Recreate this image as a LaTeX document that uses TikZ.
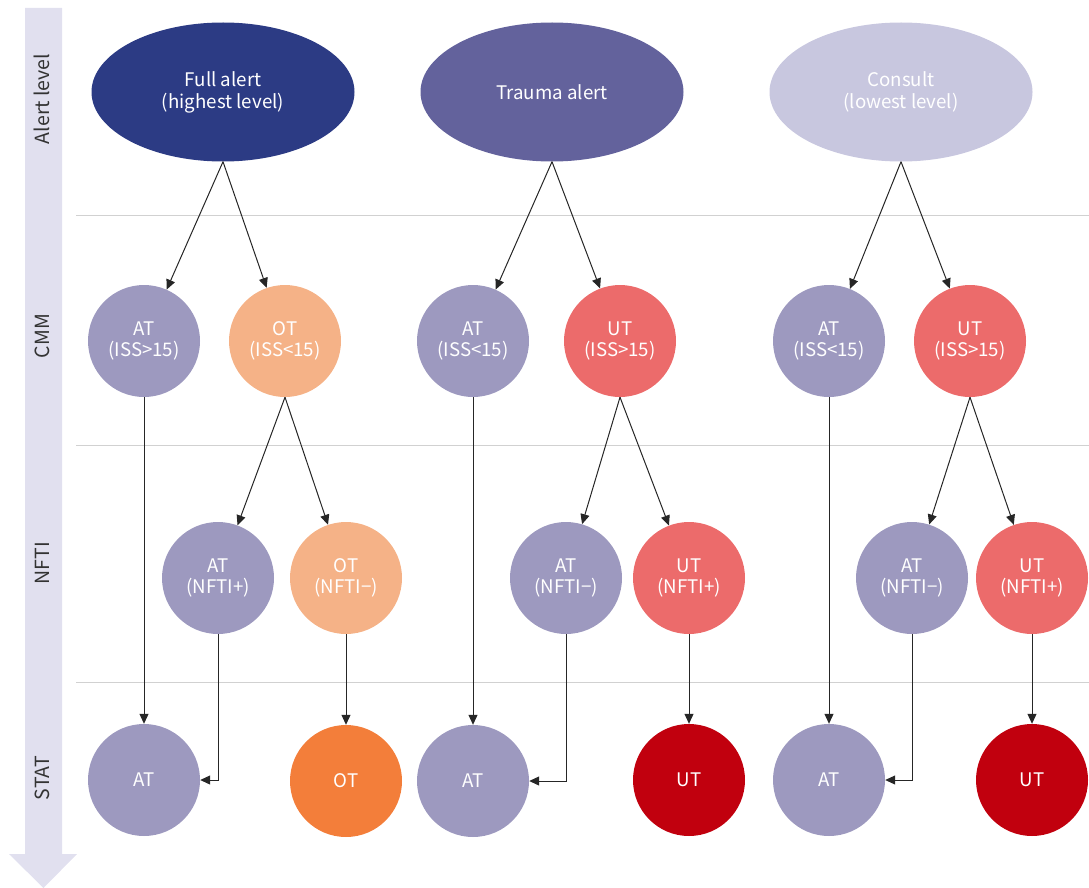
\documentclass[tikz,border=0pt]{standalone}
\usepackage{fontspec}
\setmainfont{Noto Sans CJK KR}
\usetikzlibrary{shapes,arrows.meta}
\definecolor{barcol}{HTML}{E1E0EF}
\definecolor{fullcol}{HTML}{2C3B84}
\definecolor{traumacol}{HTML}{63629C}
\definecolor{consultcol}{HTML}{C8C7DF}
\definecolor{atcol}{HTML}{9D99BF}
\definecolor{otcol}{HTML}{F5B287}
\definecolor{utcol}{HTML}{EC6B6B}
\definecolor{otdark}{HTML}{F37E3A}
\definecolor{utdark}{HTML}{C1000E}
\tikzset{
    alert/.style={ellipse, minimum width=263pt, minimum height=139pt, inner sep=0pt,
        text=white, align=center, font=\fontsize{18.7}{22}\selectfont},
    case/.style={circle, minimum size=112pt, inner sep=0pt,
        text=white, align=center, font=\fontsize{18.7}{21}\selectfont},
    flow/.style={draw=black!85, line width=1pt, -{Triangle[length=10pt,width=9pt]}},
    rowline/.style={draw=black!18, line width=1pt},
    rowlabel/.style={rotate=90, text=black!80, font=\fontsize{19.5}{22}\selectfont},
}

\begin{document}
\begin{tikzpicture}[x=1pt,y=-1pt]
		\useasboundingbox (0,0) rectangle (1089,888);
		% axis and rows
		\fill[barcol] (25,8) -- (62,8) -- (62,854) -- (77,854) -- (43.5,888) -- (9,854) -- (25,854) -- cycle;
		\foreach \y in {215,445,682}
			\draw[rowline] (76,\y) -- (1089,\y);
		\node[rowlabel] (lblalert) at (42,99) {Alert level};
		\node[rowlabel] (lblcmm) at (42,336) {CMM};
		\node[rowlabel] (lblnfti) at (42,563) {NFTI};
		\node[rowlabel] (lblstat) at (42,778) {STAT};
		% alert level
		\node[alert, fill=fullcol] (full) at (223,92) {Full alert\\(highest level)};
		\node[alert, fill=traumacol] (trauma) at (552,92) {Trauma alert};
		\node[alert, fill=consultcol] (consult) at (901,92) {Consult\\(lowest level)};
		% CMM
		\node[case, fill=atcol] (fullAT) at (144,341) {AT\\(ISS>15)};
		\node[case, fill=otcol] (fullOT) at (285,341) {OT\\(ISS<15)};
		\node[case, fill=atcol] (traumaAT) at (473,341) {AT\\(ISS<15)};
		\node[case, fill=utcol] (traumaUT) at (620,341) {UT\\(ISS>15)};
		\node[case, fill=atcol] (consultAT) at (829,341) {AT\\(ISS<15)};
		\node[case, fill=utcol] (consultUT) at (970,341) {UT\\(ISS>15)};
		% NFTI
		\node[case, fill=atcol] (fullnftiAT) at (218,578) {AT\\(NFTI+)};
		\node[case, fill=otcol] (fullnftiOT) at (346,578) {OT\\(NFTI−)};
		\node[case, fill=atcol] (traumanftiAT) at (566,578) {AT\\(NFTI−)};
		\node[case, fill=utcol] (traumanftiUT) at (689,578) {UT\\(NFTI+)};
		\node[case, fill=atcol] (consultnftiAT) at (912,578) {AT\\(NFTI−)};
		\node[case, fill=utcol] (consultnftiUT) at (1032,578) {UT\\(NFTI+)};
		% STAT
		\node[case, fill=atcol] (fullstatAT) at (144,780) {AT};
		\node[case, fill=otdark] (fullstatOT) at (346,781) {OT};
		\node[case, fill=atcol] (traumastatAT) at (473,781) {AT};
		\node[case, fill=utdark] (traumastatUT) at (689,780) {UT};
		\node[case, fill=atcol] (consultstatAT) at (829,780) {AT};
		\node[case, fill=utdark] (consultstatUT) at (1032,780) {UT};
		% arrows
		\draw[flow] (full.south) -- (fullAT);
		\draw[flow] (full.south) -- (fullOT);
		\draw[flow] (trauma.south) -- (traumaAT);
		\draw[flow] (trauma.south) -- (traumaUT);
		\draw[flow] (consult.south) -- (consultAT);
		\draw[flow] (consult.south) -- (consultUT);
		\draw[flow] (fullOT.south) -- (fullnftiAT);
		\draw[flow] (fullOT.south) -- (fullnftiOT);
		\draw[flow] (traumaUT.south) -- (traumanftiAT);
		\draw[flow] (traumaUT.south) -- (traumanftiUT);
		\draw[flow] (consultUT.south) -- (consultnftiAT);
		\draw[flow] (consultUT.south) -- (consultnftiUT);
		\draw[flow] (fullAT.south) -- (fullstatAT.north);
		\draw[flow] (fullnftiAT.south) |- (fullstatAT.east);
		\draw[flow] (fullnftiOT.south) -- (fullstatOT.north);
		\draw[flow] (traumaAT.south) -- (traumastatAT.north);
		\draw[flow] (traumanftiAT.south) |- (traumastatAT.east);
		\draw[flow] (traumanftiUT.south) -- (traumastatUT.north);
		\draw[flow] (consultAT.south) -- (consultstatAT.north);
		\draw[flow] (consultnftiAT.south) |- (consultstatAT.east);
		\draw[flow] (consultnftiUT.south) -- (consultstatUT.north);
	\end{tikzpicture}
\end{document}
